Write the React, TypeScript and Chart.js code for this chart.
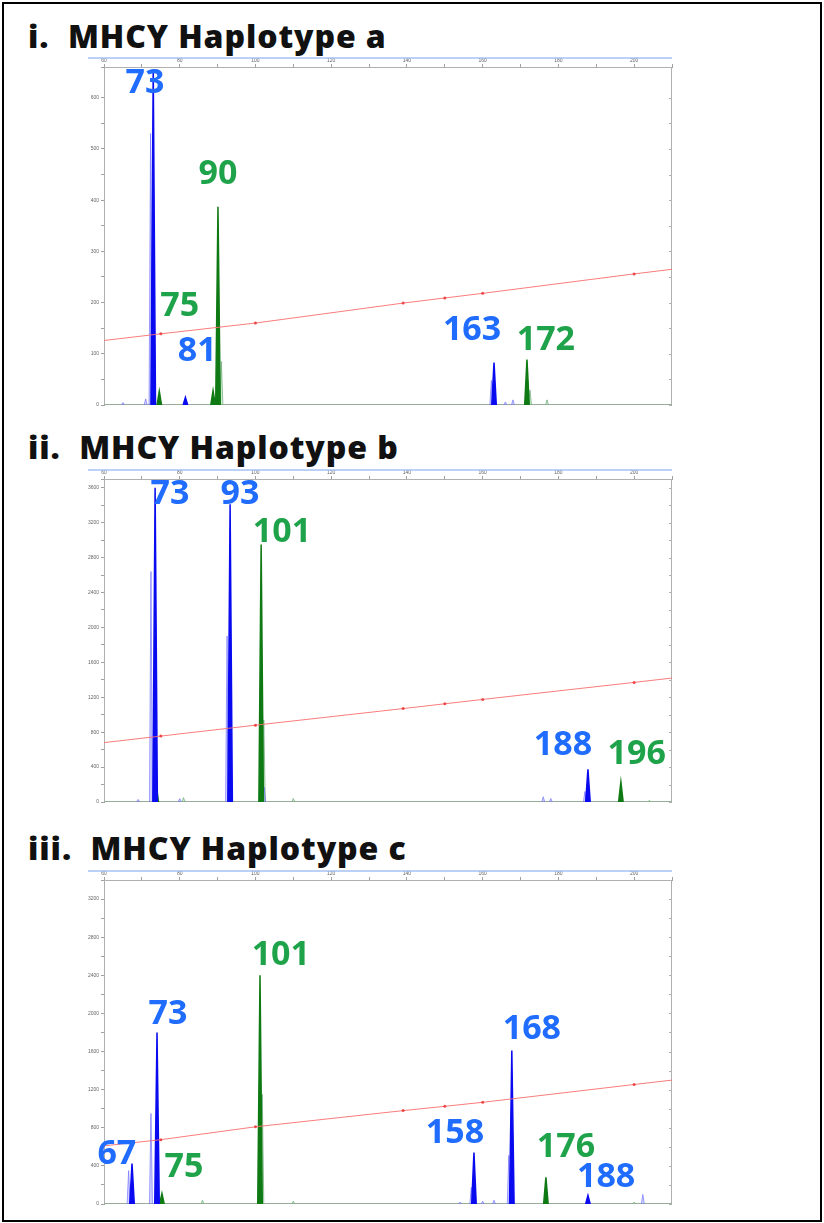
import React, { useEffect, useRef } from "react";
import { Chart, registerables } from "chart.js";

Chart.register(...registerables);

// ---------- shared axis range (base pairs) ----------
const X_MIN = 60;
const X_MAX = 210;

// ---------- Panel a ----------
const aBlueBp = [73, 81.5, 163];
const aBlueH = [655, 15, 83];
const aBlueLightBp = [72.3, 162.3, 65, 71, 166, 168];
const aBlueLightH = [530, 48, 5, 12, 6, 10];
const aGreenBp = [74.6, 88.8, 90.1, 171.7];
const aGreenH = [27, 28, 387, 89];
const aGreenLightBp = [91, 172.5, 177];
const aGreenLightH = [85, 29, 10];
const aRedBp = [60, 75, 100, 139, 150, 160, 200, 210];
const aRedVal = [126, 139, 160, 199, 209, 218, 256, 265];
const aLabelText = ["73", "90", "75", "81", "163", "172"];
const aLabelBp = [70.8, 90.1, 80, 84.6, 157.2, 176.7];
const aLabelVal = [629, 451, 193, 104, 145, 126];
const aLabelColor = ["b", "g", "g", "b", "b", "g"];

// ---------- Panel b ----------
const bBlueBp = [73.5, 93.3, 187.8];
const bBlueH = [3600, 3410, 375];
const bBlueLightBp = [72.4, 92.5, 102.3, 187, 69, 80, 176, 178];
const bBlueLightH = [2640, 1900, 170, 120, 30, 40, 60, 40];
const bGreenBp = [73.8, 101.5, 196.5];
const bGreenH = [190, 2950, 230];
const bGreenLightBp = [102.2, 81, 110, 204];
const bGreenLightH = [940, 50, 40, 20];
const bRedBp = [60, 75, 100, 139, 150, 160, 200, 210];
const bRedVal = [680, 755, 880, 1070, 1125, 1175, 1370, 1420];
const bLabelText = ["73", "93", "101", "188", "196"];
const bLabelBp = [77.4, 95.9, 107, 181.2, 200.7];
const bLabelVal = [3520, 3520, 3090, 648, 545];
const bLabelColor = ["b", "b", "g", "b", "g"];

// ---------- Panel c ----------
const cBlueBp = [67.4, 74, 157.7, 167.7, 187.8];
const cBlueH = [425, 1800, 540, 1610, 90];
const cBlueLightBp = [66.5, 72.4, 157, 166.9, 202.3, 154, 160, 163];
const cBlueLightH = [350, 950, 175, 510, 100, 20, 30, 40];
const cGreenBp = [75.3, 101.2, 176.7];
const cGreenH = [110, 2400, 280];
const cGreenLightBp = [101.8, 86, 110, 200];
const cGreenLightH = [1150, 40, 30, 20];
const cRedBp = [60, 75, 100, 139, 150, 160, 200, 210];
const cRedVal = [610, 675, 810, 980, 1025, 1067, 1254, 1300];
const cLabelText = ["67", "73", "75", "101", "158", "168", "176", "188"];
const cLabelBp = [63.4, 76.9, 81.1, 106.7, 152.7, 173, 182, 192.6];
const cLabelVal = [518, 1990, 383, 2611, 746, 1834, 590, 280];
const cLabelColor = ["b", "b", "g", "g", "b", "b", "g", "b"];

const titles = ["i.  MHCY Haplotype a", "ii.  MHCY Haplotype b", "iii.  MHCY Haplotype c"];

const BLUE_TXT = "#1f6cff";
const GREEN_TXT = "#1fa34a";

function peakPoints(bps: number[], hs: number[], halfW: number, baseline: boolean) {
  const idx = bps.map((_, i) => i).sort((p, q) => bps[p] - bps[q]);
  const pts: { x: number; y: number | null }[] = [];
  if (baseline) pts.push({ x: X_MIN, y: 0 });
  idx.forEach((i) => {
    pts.push({ x: bps[i] - halfW, y: 0 });
    pts.push({ x: bps[i], y: hs[i] });
    pts.push({ x: bps[i] + halfW, y: 0 });
    if (!baseline) pts.push({ x: bps[i] + halfW + 0.01, y: null });
  });
  if (baseline) pts.push({ x: X_MAX, y: 0 });
  return pts;
}

type PanelCfg = {
  canvasTop: number;
  canvasHeight: number;
  yMax: number;
  yStep: number;
  yMajor: number;
  blueBp: number[];
  blueH: number[];
  blueLightBp: number[];
  blueLightH: number[];
  greenBp: number[];
  greenH: number[];
  greenLightBp: number[];
  greenLightH: number[];
  redBp: number[];
  redVal: number[];
  labelText: string[];
  labelBp: number[];
  labelVal: number[];
  labelColor: string[];
};

const panels: PanelCfg[] = [
  {
    canvasTop: 55, canvasHeight: 355, yMax: 660, yStep: 50, yMajor: 100,
    blueBp: aBlueBp, blueH: aBlueH, blueLightBp: aBlueLightBp, blueLightH: aBlueLightH,
    greenBp: aGreenBp, greenH: aGreenH, greenLightBp: aGreenLightBp, greenLightH: aGreenLightH,
    redBp: aRedBp, redVal: aRedVal,
    labelText: aLabelText, labelBp: aLabelBp, labelVal: aLabelVal, labelColor: aLabelColor,
  },
  {
    canvasTop: 467, canvasHeight: 340, yMax: 3700, yStep: 200, yMajor: 400,
    blueBp: bBlueBp, blueH: bBlueH, blueLightBp: bBlueLightBp, blueLightH: bBlueLightH,
    greenBp: bGreenBp, greenH: bGreenH, greenLightBp: bGreenLightBp, greenLightH: bGreenLightH,
    redBp: bRedBp, redVal: bRedVal,
    labelText: bLabelText, labelBp: bLabelBp, labelVal: bLabelVal, labelColor: bLabelColor,
  },
  {
    canvasTop: 868, canvasHeight: 341, yMax: 3400, yStep: 200, yMajor: 400,
    blueBp: cBlueBp, blueH: cBlueH, blueLightBp: cBlueLightBp, blueLightH: cBlueLightH,
    greenBp: cGreenBp, greenH: cGreenH, greenLightBp: cGreenLightBp, greenLightH: cGreenLightH,
    redBp: cRedBp, redVal: cRedVal,
    labelText: cLabelText, labelBp: cLabelBp, labelVal: cLabelVal, labelColor: cLabelColor,
  },
];

function Panel({ cfg }: { cfg: PanelCfg }) {
  const ref = useRef<HTMLCanvasElement | null>(null);
  useEffect(() => {
    if (!ref.current) return;
    const framePlugin = {
      id: "frame",
      beforeDatasetsDraw(chart: any) {
        const { ctx, chartArea: a } = chart;
        ctx.save();
        ctx.strokeStyle = "rgba(160,190,245,0.7)";
        ctx.lineWidth = 2;
        ctx.beginPath();
        ctx.moveTo(a.left - 16, 3);
        ctx.lineTo(a.right, 3);
        ctx.stroke();
        ctx.strokeStyle = "#b0b0b0";
        ctx.lineWidth = 1;
        ctx.strokeRect(a.left + 0.5, a.top + 0.5, a.right - a.left - 1, a.bottom - a.top - 1);
        const ys = chart.scales.y;
        ys.ticks.forEach((t: any) => {
          const py = Math.round(ys.getPixelForValue(t.value)) + 0.5;
          ctx.beginPath();
          ctx.moveTo(a.right - 3, py);
          ctx.lineTo(a.right, py);
          ctx.stroke();
        });
        ctx.restore();
      },
    };
    const labelPlugin = {
      id: "peakLabels",
      afterDatasetsDraw(chart: any) {
        const { ctx } = chart;
        const xs = chart.scales.x;
        const ys = chart.scales.y;
        ctx.save();
        ctx.font = '700 34px "Open Sans"';
        ctx.textAlign = "center";
        ctx.textBaseline = "middle";
        cfg.labelText.forEach((t, i) => {
          ctx.fillStyle = cfg.labelColor[i] === "b" ? BLUE_TXT : GREEN_TXT;
          ctx.fillText(t, xs.getPixelForValue(cfg.labelBp[i]), ys.getPixelForValue(cfg.labelVal[i]));
        });
        ctx.restore();
      },
    };
    const redPts = cfg.redBp.map((x, i) => ({ x, y: cfg.redVal[i] }));
    const chart = new Chart(ref.current, {
      type: "line",
      data: {
        datasets: [
          {
            label: "size standard",
            data: redPts,
            borderColor: "rgba(250,110,110,0.9)",
            backgroundColor: "rgba(235,60,60,0.9)",
            borderWidth: 1,
            pointRadius: (c: any) => (c.dataIndex === 0 || c.dataIndex === redPts.length - 1 ? 0 : 1.5),
            pointBorderWidth: 0,
            fill: false,
          },
          {
            label: "blue",
            data: peakPoints(cfg.blueBp, cfg.blueH, 0.6, false),
            borderColor: "#0a0af0",
            backgroundColor: "#0a0af0",
            borderWidth: 1.5,
            pointRadius: 0,
            spanGaps: false,
            fill: "origin",
          },
          {
            label: "green",
            data: peakPoints(cfg.greenBp, cfg.greenH, 0.6, false),
            borderColor: "#0f7a14",
            backgroundColor: "#0f7a14",
            borderWidth: 1.5,
            pointRadius: 0,
            spanGaps: false,
            fill: "origin",
          },
          {
            label: "blue light",
            data: peakPoints(cfg.blueLightBp, cfg.blueLightH, 0.4, false),
            borderColor: "rgba(110,110,255,0.65)",
            backgroundColor: "rgba(130,130,255,0.35)",
            borderWidth: 1,
            pointRadius: 0,
            spanGaps: false,
            fill: "origin",
          },
          {
            label: "green light",
            data: peakPoints(cfg.greenLightBp, cfg.greenLightH, 0.4, true),
            borderColor: "rgba(110,170,120,0.7)",
            backgroundColor: "rgba(120,200,120,0.35)",
            borderWidth: 1,
            pointRadius: 0,
            fill: "origin",
          },
        ],
      },
      options: {
        animation: false,
        responsive: false,
        maintainAspectRatio: false,
        layout: { padding: { left: 0, right: 8, top: 0, bottom: 2 } },
        plugins: { legend: { display: false }, tooltip: { enabled: false } },
        elements: { line: { tension: 0 } },
        scales: {
          x: {
            type: "linear",
            position: "top",
            min: X_MIN,
            max: X_MAX,
            ticks: {
              stepSize: 10,
              autoSkip: false,
              maxRotation: 0,
              padding: 0,
              font: { size: 5 },
              color: "#666",
              callback: (v: any) => (Math.round(Number(v)) % 20 === 0 ? String(Math.round(Number(v))) : ""),
            },
            grid: { drawOnChartArea: false, drawTicks: true, tickLength: 3, color: "#a0a0a0" },
            border: { display: true, color: "#a0a0a0" },
            afterFit: (s: any) => {
              s.height = 12;
            },
          },
          y: {
            type: "linear",
            min: 0,
            max: cfg.yMax,
            ticks: {
              stepSize: cfg.yStep,
              autoSkip: false,
              padding: 2,
              font: { size: 5 },
              color: "#666",
              callback: (v: any) => {
                const r = Math.round(Number(v));
                return r % cfg.yMajor === 0 && r <= cfg.yMax ? String(r) : "";
              },
            },
            grid: { drawOnChartArea: false, drawTicks: true, tickLength: 3, color: "#a0a0a0" },
            border: { display: true, color: "#a0a0a0" },
            afterFit: (s: any) => {
              s.width = 24;
            },
          },
        },
      },
      plugins: [framePlugin, labelPlugin],
    } as any);
    return () => chart.destroy();
  }, [cfg]);
  return (
    <canvas
      ref={ref}
      width={600}
      height={cfg.canvasHeight}
      style={{ position: "absolute", left: 80, top: cfg.canvasTop, width: 600, height: cfg.canvasHeight }}
    />
  );
}

const titleTops = [19, 430, 831];

export default function App() {
  return (
    <div>
      <div
        style={{
          position: "absolute",
          left: 2,
          top: 2,
          width: 820,
          height: 1220,
          boxSizing: "border-box",
          border: "2px solid #000",
          background: "#fff",
        }}
      />
      {titles.map((t, i) => (
        <div
          key={t}
          style={{
            position: "absolute",
            left: 28,
            top: titleTops[i],
            fontFamily: '"Open Sans", sans-serif',
            fontWeight: 800,
            fontSize: 32,
            letterSpacing: "0.9px",
            lineHeight: "34px",
            whiteSpace: "pre",
            color: "#111",
          }}
        >
          {t}
        </div>
      ))}
      {panels.map((p, i) => (
        <Panel key={i} cfg={p} />
      ))}
    </div>
  );
}
